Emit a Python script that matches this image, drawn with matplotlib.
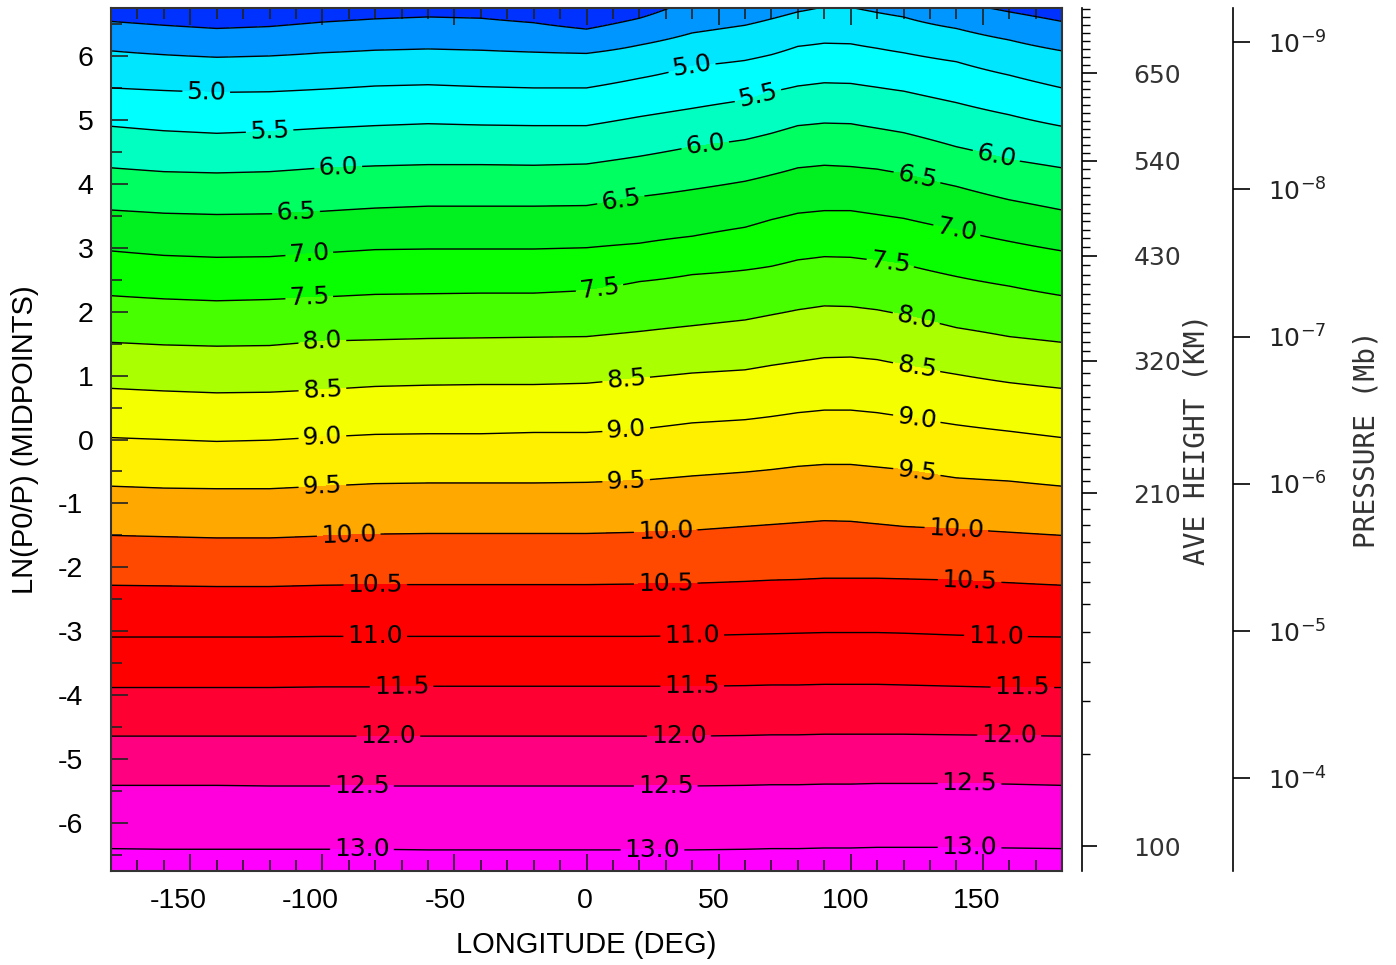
#!/usr/bin/env python3
"""Filled contour of log density vs longitude and ln(P0/P)."""
import numpy as np
import matplotlib.pyplot as plt
from matplotlib.transforms import ScaledTranslation

plt.rcParams['axes.unicode_minus'] = False

# Longitudes of the columns where the contour lines were read
lons = [-180, -160, -140, -120, -100, -80, -60, -40, -20, 0,
        20, 40, 60, 70, 80, 90, 100, 110, 120, 140, 160, 180]

# Contour levels
levels = [4.0, 4.5, 5.0, 5.5, 6.0, 6.5, 7.0, 7.5, 8.0, 8.5,
          9.0, 9.5, 10.0, 10.5, 11.0, 11.5, 12.0, 12.5, 13.0]

# ln(P0/P) of each contour line at each longitude column (one row per level)
contour_z = [
    [6.54, 6.48, 6.43, 6.46, 6.53, 6.58, 6.61, 6.59, 6.52, 6.42, 6.59,
     6.91, 7.00, 7.10, 7.19, 7.28, 7.31, 7.25, 7.14, 6.84, 6.69, 6.54],
    [6.08, 6.02, 5.98, 6.00, 6.05, 6.09, 6.11, 6.09, 6.06, 6.04, 6.17,
     6.36, 6.48, 6.58, 6.69, 6.77, 6.76, 6.68, 6.61, 6.43, 6.25, 6.08],
    [5.50, 5.46, 5.43, 5.44, 5.48, 5.53, 5.55, 5.52, 5.50, 5.50, 5.65,
     5.84, 5.93, 6.02, 6.15, 6.20, 6.19, 6.12, 6.05, 5.91, 5.70, 5.50],
    [4.90, 4.83, 4.79, 4.82, 4.87, 4.91, 4.94, 4.92, 4.91, 4.91, 5.05,
     5.18, 5.31, 5.44, 5.53, 5.58, 5.57, 5.51, 5.45, 5.27, 5.08, 4.90],
    [4.25, 4.19, 4.17, 4.19, 4.25, 4.28, 4.30, 4.30, 4.29, 4.31, 4.43,
     4.58, 4.69, 4.79, 4.91, 4.95, 4.94, 4.87, 4.80, 4.58, 4.38, 4.25],
    [3.59, 3.54, 3.52, 3.53, 3.57, 3.62, 3.65, 3.65, 3.65, 3.66, 3.80,
     3.91, 4.04, 4.14, 4.25, 4.29, 4.27, 4.23, 4.16, 3.96, 3.75, 3.59],
    [2.95, 2.88, 2.85, 2.86, 2.92, 2.97, 2.98, 2.98, 2.98, 3.00, 3.07,
     3.18, 3.32, 3.44, 3.54, 3.58, 3.58, 3.52, 3.46, 3.28, 3.10, 2.95],
    [2.25, 2.20, 2.17, 2.19, 2.23, 2.27, 2.28, 2.29, 2.29, 2.33, 2.47,
     2.58, 2.65, 2.71, 2.81, 2.86, 2.85, 2.80, 2.74, 2.55, 2.40, 2.25],
    [1.52, 1.48, 1.46, 1.47, 1.54, 1.56, 1.58, 1.59, 1.60, 1.61, 1.69,
     1.78, 1.87, 1.95, 2.03, 2.09, 2.08, 2.03, 1.95, 1.75, 1.61, 1.52],
    [0.80, 0.76, 0.73, 0.74, 0.78, 0.83, 0.85, 0.86, 0.86, 0.88, 0.96,
     1.04, 1.09, 1.16, 1.22, 1.28, 1.29, 1.25, 1.17, 1.02, 0.89, 0.80],
    [0.03, 0.00, -0.03, -0.01, 0.04, 0.08, 0.09, 0.09, 0.11, 0.11, 0.16,
     0.26, 0.31, 0.36, 0.42, 0.46, 0.46, 0.42, 0.36, 0.23, 0.13, 0.03],
    [-0.73, -0.76, -0.77, -0.77, -0.73, -0.69, -0.68, -0.68, -0.68, -0.67,
     -0.64, -0.57, -0.51, -0.47, -0.42, -0.39, -0.39, -0.43, -0.47, -0.60,
     -0.65, -0.73],
    [-1.50, -1.52, -1.54, -1.54, -1.51, -1.48, -1.47, -1.47, -1.47, -1.47,
     -1.45, -1.42, -1.36, -1.33, -1.30, -1.27, -1.28, -1.32, -1.36, -1.40,
     -1.45, -1.50],
    [-2.28, -2.29, -2.30, -2.30, -2.28, -2.27, -2.27, -2.27, -2.27, -2.27,
     -2.26, -2.25, -2.22, -2.20, -2.19, -2.17, -2.17, -2.17, -2.18, -2.20,
     -2.24, -2.28],
    [-3.09, -3.09, -3.09, -3.09, -3.08, -3.08, -3.08, -3.08, -3.08, -3.08,
     -3.08, -3.07, -3.05, -3.04, -3.03, -3.02, -3.02, -3.02, -3.03, -3.06,
     -3.08, -3.09],
    [-3.88, -3.88, -3.88, -3.88, -3.87, -3.87, -3.86, -3.86, -3.86, -3.86,
     -3.86, -3.86, -3.85, -3.84, -3.84, -3.83, -3.83, -3.83, -3.84, -3.86,
     -3.88, -3.88],
    [-4.64, -4.64, -4.64, -4.64, -4.64, -4.64, -4.64, -4.64, -4.64, -4.64,
     -4.64, -4.64, -4.63, -4.62, -4.62, -4.61, -4.61, -4.61, -4.61, -4.62,
     -4.63, -4.64],
    [-5.41, -5.41, -5.41, -5.42, -5.42, -5.42, -5.42, -5.42, -5.42, -5.42,
     -5.42, -5.42, -5.41, -5.40, -5.40, -5.39, -5.39, -5.38, -5.38, -5.38,
     -5.39, -5.41],
    [-6.40, -6.41, -6.41, -6.41, -6.41, -6.41, -6.42, -6.42, -6.42, -6.42,
     -6.42, -6.42, -6.41, -6.40, -6.40, -6.39, -6.39, -6.38, -6.38, -6.38,
     -6.39, -6.40],
]

band_colors = ['#0032ff', '#0096ff', '#00e6ff', '#00ffff', '#00ffc0',
               '#00ff60', '#00f020', '#08ff00', '#48ff00', '#aaff00',
               '#f4ff00', '#fff000', '#ffa800', '#ff4800', '#ff0000',
               '#ff0000', '#ff0032', '#ff0080', '#ff00dc', '#ff00ff']

# Average height axis (km) and where its ticks sit in ln(P0/P)
height_km = [100, 110, 120, 130, 140, 150, 160, 170, 180, 190, 200, 210,
             320, 430, 540, 650, 730]
height_z = [-6.36, -4.92, -4.09, -3.48, -3.01, -2.58, -2.23, -1.92,
            -1.61, -1.33, -1.08, -0.84, 1.23, 2.875, 4.36, 5.73, 6.73]
height_labels = [100, 210, 320, 430, 540, 650]

# Pressure axis (mb), reference pressure of ln(P0/P)
p0_mb = 5e-7
pressure_exp = [-9, -8, -7, -6, -5, -4]

# Where the contour labels go (lon, ln(P0/P))
label_pos = [(-144, 5.39), (40, 5.81),
             (-120, 4.86), (65, 5.36),
             (-94, 4.27), (45, 4.58), (155, 4.41),
             (-110, 3.59), (13, 3.75), (125, 4.08),
             (-105, 2.94), (140, 3.23),
             (-105, 2.25), (5, 2.34), (115, 2.77),
             (-100, 1.53), (125, 1.94),
             (-100, 0.81), (15, 0.95), (125, 1.14),
             (-100, 0.06), (15, 0.17), (125, 0.31),
             (-100, -0.72), (15, -0.64), (125, -0.53),
             (-90, -1.48), (30, -1.44), (140, -1.41),
             (-80, -2.28), (30, -2.27), (145, -2.25),
             (-80, -3.09), (40, -3.08), (155, -3.09),
             (-70, -3.89), (40, -3.88), (165, -3.89),
             (-75, -4.64), (35, -4.64), (160, -4.64),
             (-85, -5.41), (30, -5.42), (145, -5.38),
             (-85, -6.41), (25, -6.42), (145, -6.39)]

# Build the field column by column from the line positions
lev = np.array(levels)
cz = np.array(contour_z)
zz = np.linspace(-7.5, 8.0, 1201)
field = np.empty((zz.size, len(lons)))
for j in range(len(lons)):
    zs = cz[::-1, j]
    vs = lev[::-1]
    f = np.interp(zz, zs, vs)
    lo = zz < zs[0]
    f[lo] = vs[0] + (zz[lo] - zs[0]) * (vs[1] - vs[0]) / (zs[1] - zs[0])
    hi = zz > zs[-1]
    f[hi] = vs[-1] + (zz[hi] - zs[-1]) * (vs[-1] - vs[-2]) / (zs[-1] - zs[-2])
    field[:, j] = f

fig = plt.figure(figsize=(13.96, 9.65), dpi=100)
ax = fig.add_axes([111 / 1396, 1 - 871 / 965, 951 / 1396, 863 / 965])

ax.contourf(lons, zz, field, levels=[-50] + levels + [50], colors=band_colors)
ax.contour(lons, zz, field, levels=levels[:2], colors='black', linewidths=1.0)
cs = ax.contour(lons, zz, field, levels=levels[2:], colors='black',
                linewidths=1.0)
lbl = ax.clabel(cs, manual=label_pos, fmt='%.1f',
                inline=True, inline_spacing=4, fontsize=18)
for t in lbl:
    t.set_family('DejaVu Sans')

ax.set_xlim(-180, 180)
ax.set_ylim(-6.75, 6.75)
ax.set_xticks(np.arange(-150, 151, 50))
ax.set_xticks(np.arange(-170, 171, 10), minor=True)
ax.set_yticks(np.arange(-6, 7, 1))
ax.set_yticks(np.arange(-6.5, 6.6, 0.5), minor=True)
ax.tick_params(which='both', direction='in', top=True, right=True,
               colors='#222222', labelcolor='black', width=1.2)
ax.tick_params(which='major', length=12, labelsize=20.5, pad=12)
ax.tick_params(which='minor', length=8)
for sp in ax.spines.values():
    sp.set_color('#333333')
    sp.set_linewidth(1.5)

ax.set_xlabel('LONGITUDE (DEG)', fontsize=21, family='Liberation Sans')
ax.xaxis.set_label_coords(0.5, -(945 - 871) / 863)
ax.xaxis.label.set_va('center')
ax.set_ylabel('LN(P0/P) (MIDPOINTS)', fontsize=21, family='Liberation Sans')
ax.yaxis.set_label_coords((25 - 111) / 951, 0.5)
ax.yaxis.label.set_va('center')

# Average height axis
ax_h = ax.twinx()
ax_h.set_ylim(ax.get_ylim())
for k in ['left', 'top', 'bottom']:
    ax_h.spines[k].set_visible(False)
ax_h.spines['right'].set_position(('axes', (1082 - 111) / 951))
ax_h.spines['right'].set_linewidth(1.2)
hk_minor = np.arange(100, 731, 10)
ax_h.set_yticks(np.interp(hk_minor, height_km, height_z), minor=True)
ax_h.set_yticks(np.interp(height_labels, height_km, height_z))
ax_h.set_yticklabels([str(v) for v in height_labels])
ax_h.tick_params(which='major', direction='out', length=11, width=1.2,
                 labelsize=18, pad=26, labelcolor='#333333')
ax_h.tick_params(which='minor', direction='out', length=6, width=1.0)
ax_h.set_ylabel('AVE HEIGHT (KM)', fontsize=20, family='DejaVu Sans Mono',
                color='#333333')
ax_h.yaxis.set_label_coords((1196 - 111) / 951, 0.5)
ax_h.yaxis.label.set_va('center')

# Pressure axis
ax_p = ax.twinx()
ax_p.set_ylim(ax.get_ylim())
for k in ['left', 'top', 'bottom']:
    ax_p.spines[k].set_visible(False)
ax_p.spines['right'].set_position(('axes', (1233 - 111) / 951))
ax_p.spines['right'].set_linewidth(1.2)
ax_p.set_yticks([np.log(p0_mb / 10.0 ** e) for e in pressure_exp])
ax_p.set_yticklabels([r'$10^{%d}$' % e for e in pressure_exp])
ax_p.tick_params(which='major', direction='out', length=12, width=1.2,
                 labelsize=18, pad=13, labelcolor='#222222')
ax_p.set_ylabel('PRESSURE (Mb)', fontsize=20, family='DejaVu Sans Mono',
                color='#333333')
ax_p.yaxis.set_label_coords((1367 - 111) / 951, 0.5)
ax_p.yaxis.label.set_va('center')

# Nudge the left/bottom tick labels to where the original placed them
x_shift_px = [-12, -12, -9, -1.5, -4.5, -5.5, -6]
for lab, dx in zip(ax.get_xticklabels(), x_shift_px):
    lab.set_family('Liberation Sans')
    lab.set_transform(lab.get_transform() +
                      ScaledTranslation(dx / 100, 0, fig.dpi_scale_trans))
for lab, v in zip(ax.get_yticklabels(), ax.get_yticks()):
    lab.set_family('Liberation Sans')
    dx = -11 if v < 0 else -1
    lab.set_transform(lab.get_transform() +
                      ScaledTranslation(dx / 100, 0, fig.dpi_scale_trans))

plt.savefig('out.png', dpi=100)
print("Generated: out.png")
